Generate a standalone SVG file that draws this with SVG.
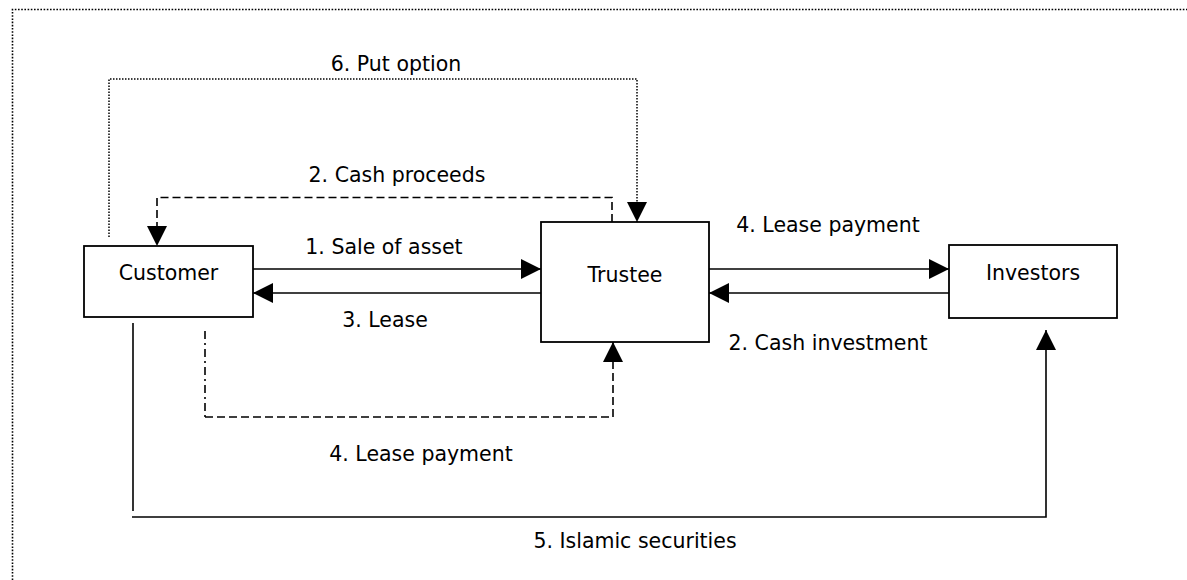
<svg xmlns="http://www.w3.org/2000/svg" width="1187" height="580" viewBox="0 0 1187 580">
<style>
text{font-family:"DejaVu Sans","Liberation Sans",sans-serif;font-size:20.5px;fill:#000;text-anchor:middle}
.box{fill:#fff;stroke:#000;stroke-width:1.8}
.solid{fill:none;stroke:#000;stroke-width:1.6}
.dash{fill:none;stroke:#000;stroke-width:1.6;stroke-dasharray:8,4}
.dashdot{fill:none;stroke:#000;stroke-width:1.6;stroke-dasharray:8,4,2,4}
.dot{fill:none;stroke:#000;stroke-width:1.5;stroke-dasharray:1.5,1.5}
.frame{fill:none;stroke:#000;stroke-width:1.6;stroke-dasharray:1.6,1.6}
</style>
<defs>
<marker id="arr" viewBox="0 0 20 20" refX="20" refY="10" markerWidth="20" markerHeight="20" markerUnits="userSpaceOnUse" orient="auto">
<path d="M0,0 L20,10 L0,20 Z" fill="#000"/>
</marker>
</defs>
<rect width="1187" height="580" fill="#fff"/>
<path class="frame" d="M12.5,580 V9.5 H1187"/>
<g id="connectors">
<path class="dot" d="M109,237 V79 H637 V222" marker-end="url(#arr)"/>
<path class="dash" d="M612,222 V197.5 H157 V246" marker-end="url(#arr)"/>
<path class="solid" d="M253,269 H541" marker-end="url(#arr)"/>
<path class="solid" d="M541,293 H253" marker-end="url(#arr)"/>
<path class="solid" d="M709,269 H949" marker-end="url(#arr)"/>
<path class="solid" d="M949,293 H709" marker-end="url(#arr)"/>
<path class="dashdot" d="M205,331 V417"/>
<path class="dash" d="M205,417 H613 V342" marker-end="url(#arr)"/>
<path class="solid" d="M133,323 V511"/>
<path class="solid" d="M132,517 H1046 V330" marker-end="url(#arr)"/>
<text x="396" y="71">6. Put option</text>
<text x="397" y="182">2. Cash proceeds</text>
<text x="384" y="254">1. Sale of asset</text>
<text x="385" y="327">3. Lease</text>
<text x="421" y="461">4. Lease payment</text>
<text x="828" y="232">4. Lease payment</text>
<text x="828" y="350">2. Cash investment</text>
<text x="635" y="548">5. Islamic securities</text>
</g>
<g id="customer">
<rect class="box" x="84" y="246" width="169" height="71"/>
<text x="168.5" y="280">Customer</text>
</g>
<g id="trustee">
<rect class="box" x="541" y="222" width="168" height="120"/>
<text x="625" y="282">Trustee</text>
</g>
<g id="investors">
<rect class="box" x="949" y="245" width="168" height="73"/>
<text x="1033" y="280">Investors</text>
</g>
</svg>
